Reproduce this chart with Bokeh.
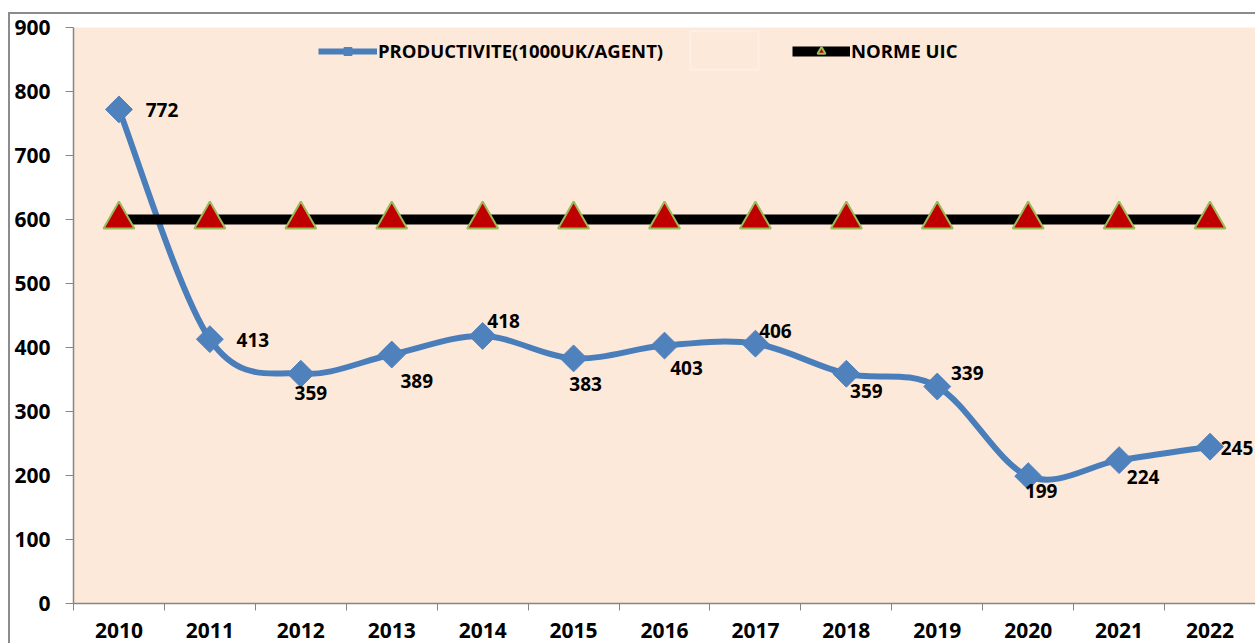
import math
from bokeh.plotting import figure
from bokeh.models import (ColumnDataSource, FixedTicker, Range1d, Legend, LegendItem,
                          BoxAnnotation)
from bokeh.core.properties import value
from bokeh.embed import file_html
from bokeh.resources import INLINE

# ---------------- data ----------------
years = ["2010", "2011", "2012", "2013", "2014", "2015", "2016",
         "2017", "2018", "2019", "2020", "2021", "2022"]
productivite = [772, 413, 359, 389, 418, 383, 403, 406, 359, 339, 199, 224, 245]
norme_uic = [600] * 13
y_ticks = [0, 100, 200, 300, 400, 500, 600, 700, 800, 900]

# label placement (pixels, style only; dy positive = downward)
label_dx = [43, 43, 10, 25, 21, 12, 22, 20, 20, 30, 13, 24, 27]
label_dy = [1, 1, 19, 26, -15, 26, 22, -13, 17, -14, 15, 17, 1]

FONT = value("Open Sans")
BLUE = "#4A7EBB"
BLUE_FILL = "#4F81BD"

n = len(years)
xs = [i + 0.5 for i in range(n)]

# smoothed line (Catmull-Rom -> cubic bezier control points, like Excel "smoothed line")
x0s, y0s, x1s, y1s, cx0, cy0, cx1, cy1 = [], [], [], [], [], [], [], []
for i in range(n - 1):
    pa = (xs[max(i - 1, 0)], productivite[max(i - 1, 0)])
    pb = (xs[i], productivite[i])
    pc = (xs[i + 1], productivite[i + 1])
    pd = (xs[min(i + 2, n - 1)], productivite[min(i + 2, n - 1)])
    x0s.append(pb[0]); y0s.append(pb[1])
    x1s.append(pc[0]); y1s.append(pc[1])
    cx0.append(pb[0] + (pc[0] - pa[0]) / 6); cy0.append(pb[1] + (pc[1] - pa[1]) / 6)
    cx1.append(pc[0] - (pd[0] - pb[0]) / 6); cy1.append(pc[1] - (pd[1] - pb[1]) / 6)

bez_src = ColumnDataSource(dict(x0=x0s, y0=y0s, x1=x1s, y1=y1s,
                                cx0=cx0, cy0=cy0, cx1=cx1, cy1=cy1))
pts_src = ColumnDataSource(dict(x=xs, y=productivite, norme=norme_uic,
                                lbl=[str(v) for v in productivite],
                                dx=label_dx, dy=label_dy))

p = figure(width=1255, height=643, x_range=Range1d(0, n), y_range=Range1d(0, 900),
           output_backend="svg", toolbar_location=None,
           min_border_left=73, min_border_top=27, min_border_right=0, min_border_bottom=40,
           background_fill_color="#FDE9D9", border_fill_alpha=0,
           outline_line_color=None)
# outer chart-area frame (left and top edges), drawn as the element's background
p.styles = {"background": "linear-gradient(#8C8C8C, #8C8C8C) 8px 12px / 2px 100% no-repeat, "
                          "linear-gradient(#8C8C8C, #8C8C8C) 8px 12px / 100% 2px no-repeat, "
                          "#FFFFFF"}
p.grid.visible = False

bez = p.bezier(x0="x0", y0="y0", x1="x1", y1="y1", cx0="cx0", cy0="cy0",
               cx1="cx1", cy1="cy1", source=bez_src, line_color=BLUE, line_width=6)
diam = p.scatter("x", "y", source=pts_src, marker="square", angle=math.pi / 4, size=19,
                 fill_color=BLUE_FILL, line_color=BLUE_FILL, line_width=1)

nline = p.line("x", "norme", source=pts_src, line_color="black", line_width=10)
tri = p.scatter("x", "norme", source=pts_src, marker="triangle", size=31,
                fill_color="#C00000", line_color="#9BBB59", line_width=2)

p.text("x", "y", text="lbl", source=pts_src, x_offset="dx", y_offset="dy",
       text_align="center", text_baseline="middle", text_font=FONT,
       text_font_style="bold", text_font_size="19px", text_color="black")

# empty white box seen in the legend band
p.add_layout(BoxAnnotation(left=6.786, right=7.534, bottom=834, top=894,
                           fill_alpha=0, line_color="white", line_width=2))

# axes
xa = p.xaxis[0]
xa.ticker = FixedTicker(ticks=xs, minor_ticks=list(range(n + 1)))
xa.major_label_overrides = {x: y for x, y in zip(xs, years)}
xa.major_tick_out = 0
xa.major_tick_in = 0
xa.minor_tick_out = 7
xa.minor_tick_in = 0
xa.minor_tick_line_color = "#868686"
xa.axis_line_color = "#868686"
xa.axis_line_width = 1.5
xa.major_label_standoff = 12
xa.major_label_text_font = "Open Sans"
xa.major_label_text_font_style = "bold"
xa.major_label_text_font_size = "21px"
xa.major_label_text_color = "black"

ya = p.yaxis[0]
ya.ticker = FixedTicker(ticks=y_ticks)
ya.major_tick_out = 8
ya.major_tick_in = 0
ya.minor_tick_out = 0
ya.minor_tick_in = 0
ya.major_tick_line_color = "#868686"
ya.axis_line_color = "#868686"
ya.axis_line_width = 1.5
ya.major_label_standoff = 15
ya.major_label_text_font = "Open Sans"
ya.major_label_text_font_style = "bold"
ya.major_label_text_font_size = "21px"
ya.major_label_text_color = "black"

def mk_legend(label, rends, x, gw):
    lg = Legend(items=[LegendItem(label=label, renderers=rends)], location=(x, 540),
                orientation="horizontal", padding=0, margin=0, spacing=0,
                glyph_width=gw, glyph_height=20, label_height=20, label_standoff=1,
                background_fill_alpha=0, border_line_alpha=0,
                label_text_font="Open Sans", label_text_font_style="bold",
                label_text_font_size="18.5px", label_text_color="black")
    p.add_layout(lg)

mk_legend("PRODUCTIVITE(1000UK/AGENT)", [bez, diam], 245, 59)
mk_legend("NORME UIC", [nline, tri], 719, 58)

open("out.html", "w").write(file_html(p, INLINE))
